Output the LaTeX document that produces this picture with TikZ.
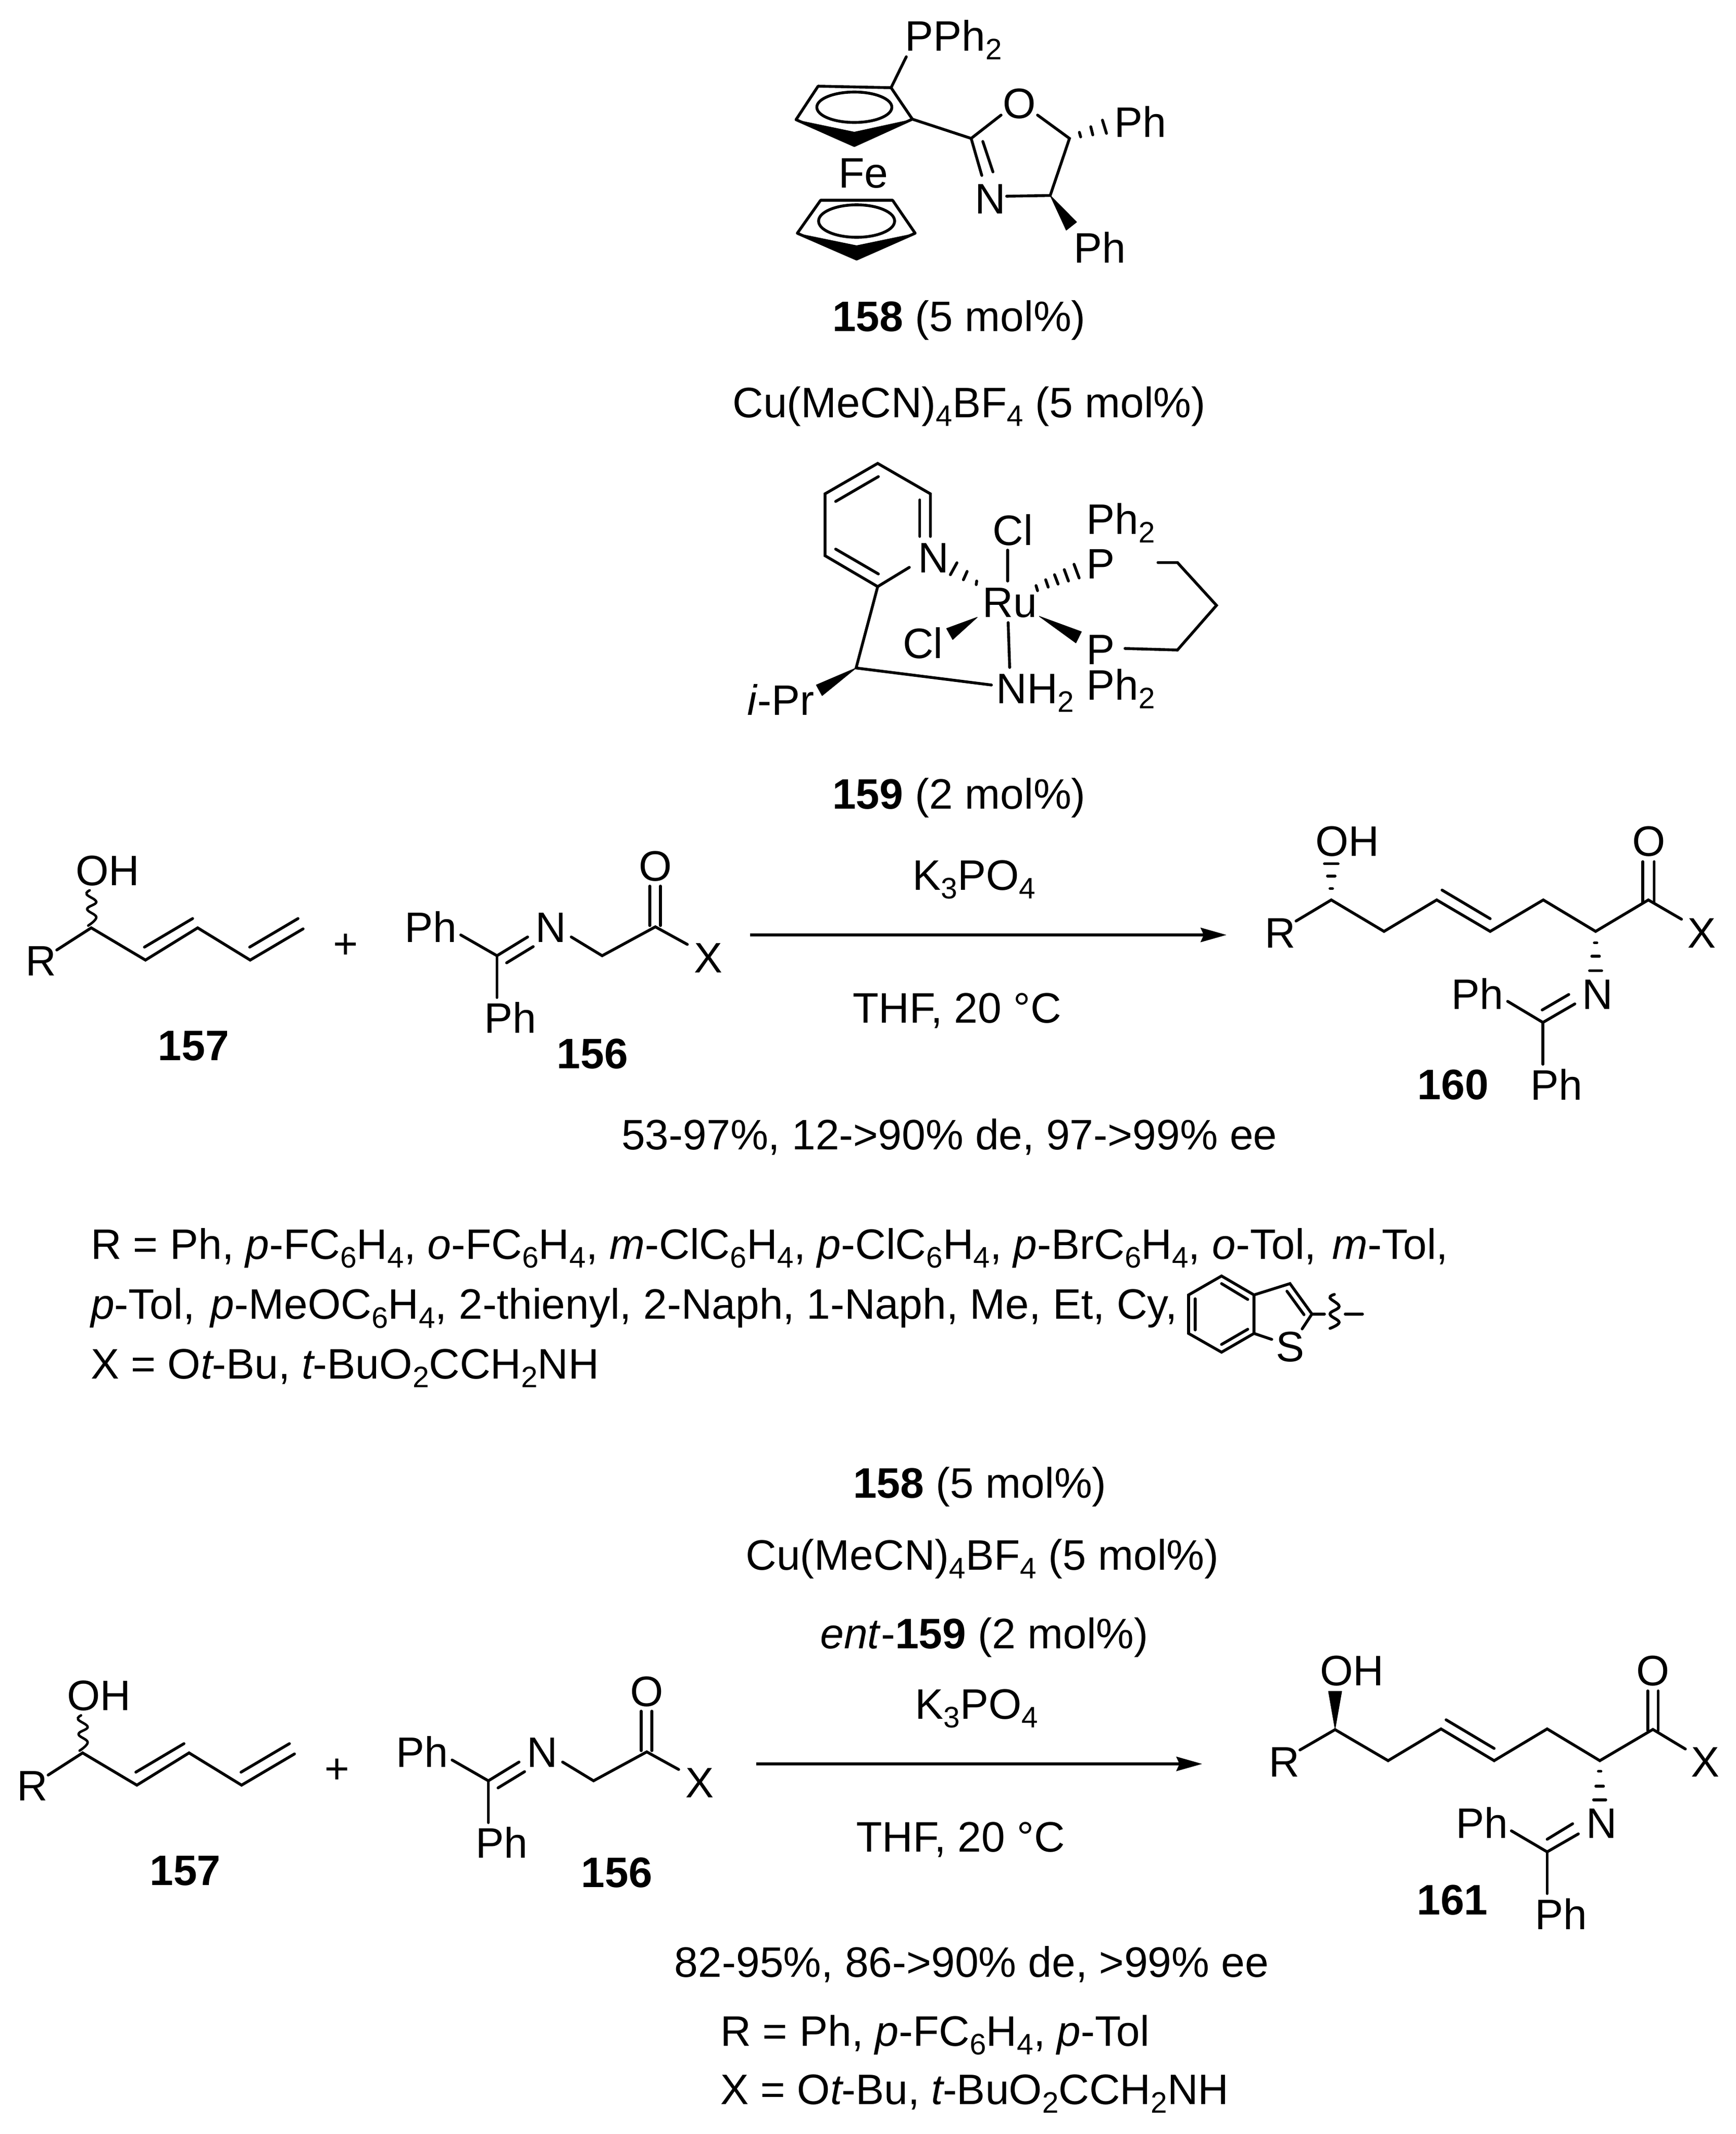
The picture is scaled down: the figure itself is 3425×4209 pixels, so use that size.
\documentclass[tikz,border=0pt]{standalone}
\usepackage{fontspec}
\setmainfont{Liberation Sans}
\usetikzlibrary{arrows.meta}
\newcommand{\sbs}[1]{\raisebox{-0.21em}{\fontsize{14.6}{15}\selectfont #1}}
\tikzset{
  bond/.style={line width=1.4pt,line cap=round,line join=miter,miter limit=6},
  wedge/.style={fill=black,draw=black,line width=0.3pt,line join=round},
  txt/.style={inner sep=0pt,outer sep=0pt,font=\fontsize{21}{25}\selectfont,anchor=base},
  txl/.style={txt,anchor=base west},
  atc/.style={inner sep=0pt,outer sep=0pt,font=\fontsize{21}{25}\selectfont,anchor=base},
  atom/.style={atc,anchor=base west,xshift=-0.9pt},
  rxn/.style={line width=1.5pt,-{Stealth[length=12.75pt,width=7pt,inset=1.5pt]}},
}
\newcommand{\wavy}{\draw[bond,line width=1.2pt] plot[smooth,tension=0.7] coordinates {(177,1756) (171,1764) (190,1779) (172,1793) (190,1809) (174,1825.6)};}
% reactants 157 and 156 (upper coordinates), #1 = prefix for node names
\newcommand{\reactants}[1]{
  \draw[bond] (112,1873.7) -- (180,1830) -- (287,1893.6) -- (390,1830) -- (493.6,1893.6) -- (598,1832);
  \draw[bond] (285,1868) -- (380,1811.7);
  \draw[bond] (492.6,1868) -- (588,1811.7);
  \wavy
  \node[atom] (#1oh) at (153,1746) {OH};
  \node[atom] (#1r) at (54.5,1924) {R};
  \node[txt] (#1plus) at (682,1890) {+};
  \draw[bond] (909,1844) -- (980.5,1885) -- (1041,1848);
  \draw[bond] (980.5,1885) -- (980.5,1967.5);
  \draw[bond] (999.6,1899) -- (1052,1867);
  \draw[bond] (1127,1848) -- (1188,1885) -- (1293,1828) -- (1356,1862.7);
  \draw[bond] (1282,1825.6) -- (1282,1747.7);
  \draw[bond] (1303,1825.6) -- (1303,1747.7);
  \node[atom] (#1n) at (1060,1858) {N};
  \node[atc] (#1o) at (1293,1737.7) {O};
  \node[atc] (#1x) at (1397,1918) {X};
  \node[atom] (#1pha) at (801.6,1858) {Ph};
  \node[atom] (#1phb) at (959.5,2037) {Ph};
}
\begin{document}
\begin{tikzpicture}[x=0.25pt,y=-0.25pt]
\useasboundingbox (0,0) rectangle (3425,4209);
\fill[white] (0,0) rectangle (3425,4209);
% ---------- ligand 158
\draw[bond,line join=round] (1614,170) -- (1758,173) -- (1800,235) -- (1685.5,287) -- (1570.5,236) -- cycle;
\fill (1570.5,236) -- (1685.5,260) -- (1800,235) -- (1685.5,287) -- cycle;
\draw[bond] (1685.5,211.5) ellipse [x radius=74,y radius=30];
\draw[bond,line join=round] (1619,395) -- (1761,395) -- (1805.5,460) -- (1690,511) -- (1573,460) -- cycle;
\fill (1573,460) -- (1690,484) -- (1805.5,460) -- (1690,511) -- cycle;
\draw[bond] (1690,436) ellipse [x radius=75,y radius=32];
\draw[bond] (1758,173) -- (1788,112);
\draw[bond] (1800,235) -- (1916,273) -- (1937,346);
\draw[bond] (1939,279) -- (1959,339);
\draw[bond] (1916,273) -- (1975,227);
\draw[bond] (2047,227) -- (2110,273) -- (2072,385.5) -- (1986,387);
\fill[wedge] (2072,385.5) -- (2124,438) -- (2103.6,454) -- cycle;
\draw[bond] (2129.5,261) -- (2132,270);
\draw[bond] (2152,250) -- (2156,266);
\draw[bond] (2175,237) -- (2183,263);
\node[atom] (pph) at (1789,100) {PPh\sbs{2}};
\node[atom] (fe) at (1658,370.5) {Fe};
\node[atc] (o158) at (2011,233) {O};
\node[atom] (n158) at (1927.5,421) {N};
\node[atom] (ph1) at (2202,270) {Ph};
\node[atom] (ph2) at (2122.5,518) {Ph};
\node[txt] (t158) at (1892,653) {\textbf{158} (5 mol\%)};
\node[txt] (tcu) at (1912,823) {Cu(MeCN)\sbs{4}BF\sbs{4} (5 mol\%)};
% ---------- Ru complex 159
\draw[bond] (1794,1119) -- (1731.6,1157) -- (1627.7,1096) -- (1627.7,974) -- (1731.6,914) -- (1835.6,974) -- (1835.6,1058);
\draw[bond] (1814.6,986) -- (1814.6,1058);
\draw[bond] (1648.7,989) -- (1733,940);
\draw[bond] (1648.7,1083) -- (1733,1132);
\draw[bond] (1731.6,1157) -- (1689,1317.5) -- (1956,1351);
\fill[wedge] (1689,1317.5) -- (1610.5,1351) -- (1622,1372) -- cycle;
\draw[bond] (1988,1085) -- (1988,1146);
\draw[bond] (1989,1228) -- (1992,1316.4);
\draw[bond] (1927,1146) -- (1926,1153);
\draw[bond] (1908,1127) -- (1900.7,1143.5);
\draw[bond] (1888,1110) -- (1875,1133.5);
\draw[bond] (2044,1155) -- (2047,1165);
\draw[bond] (2063,1143.5) -- (2068,1158);
\draw[bond] (2080.5,1133.5) -- (2087.5,1152);
\draw[bond] (2099.7,1123.5) -- (2108,1146);
\draw[bond] (2119,1113) -- (2129,1140);
\fill[wedge] (1928,1217.5) -- (1867.5,1239.6) -- (1879.6,1261.4) -- cycle;
\fill[wedge] (2050.6,1215.7) -- (2133.5,1246) -- (2122.6,1268) -- cycle;
\draw[bond] (2284.6,1109.6) -- (2323,1109.6) -- (2400,1194) -- (2323,1282) -- (2219.6,1279);
\node[atom] (npy) at (1814.6,1129) {N};
\node[atom] (ipr) at (1478,1410) {\textit{i}-Pr};
\node[atom] (nh2) at (1969,1387) {NH\sbs{2}};
\node[atom] (ph2b) at (2147.5,1380) {Ph\sbs{2}};
\node[atom] (pb) at (2147.5,1310) {P};
\node[atom] (pa) at (2147.5,1141) {P};
\node[atom] (ph2a) at (2147.5,1053) {Ph\sbs{2}};
\node[atom] (cla) at (1962.5,1075) {Cl};
\node[atom] (ru) at (1942,1217.5) {Ru};
\node[atom] (clb) at (1784.6,1298.5) {Cl};
\node[txt] (t159) at (1892,1595) {\textbf{159} (2 mol\%)};
\node[txt] (tk) at (1922,1755) {K\sbs{3}PO\sbs{4}};
\node[txt] (tthf) at (1888,2017) {THF, 20 °C};
% ---------- upper reaction
\reactants{u}
\node[txt] (l157) at (382,2091) {\textbf{157}};
\node[txt] (l156) at (1169,2107) {\textbf{156}};
\coordinate (a1s) at (1480,1844);
\coordinate (a1e) at (2420,1844);
\draw[rxn] (a1s) -- (a1e);
% product 160
\draw[bond] (2557,1816.6) -- (2626.5,1775) -- (2730.5,1837) -- (2834.5,1775) -- (2940,1837) -- (3044.8,1775) -- (3148,1837) -- (3252,1775) -- (3317.4,1813);
\draw[bond] (2845,1755.5) -- (2940,1812);
\draw[bond] (3241,1780) -- (3241,1699.5);
\draw[bond] (3263.6,1780) -- (3263.6,1699.5);
\draw[bond] (2624,1752.6) -- (2629,1752.6);
\draw[bond] (2619,1727.7) -- (2634,1727.7);
\draw[bond] (2613,1703.6) -- (2640,1703.6);
\draw[bond] (3145.5,1859.5) -- (3150.5,1859.5);
\draw[bond] (3140.5,1886) -- (3155.5,1886);
\draw[bond] (3136,1914.6) -- (3160,1914.6);
\draw[bond] (2974.5,1975) -- (3044,2016.6) -- (3107,1980);
\draw[bond] (3044,2016.6) -- (3044,2099);
\draw[bond] (3042.6,1992) -- (3095,1961.5);
\node[atom] (r160) at (2499,1869) {R};
\node[atc] (o160) at (3253,1688) {O};
\node[atc] (x160) at (3357,1869) {X};
\node[atom] (oh160) at (2599,1688) {OH};
\node[atom] (n160) at (3125,1990) {N};
\node[atom] (pha160) at (2867,1990) {Ph};
\node[atom] (phb160) at (3023,2169.6) {Ph};
\node[txt] (l160) at (2867,2168) {\textbf{160}};
\node[txt] (y1) at (1873,2267) {53-97\%, 12->90\% de, 97->99\% ee};
% substituent list
\node[txl] (s1) at (179,2483.3) {R = Ph, \textit{p}-FC\sbs{6}H\sbs{4}, \textit{o}-FC\sbs{6}H\sbs{4}, \textit{m}-ClC\sbs{6}H\sbs{4}, \textit{p}-ClC\sbs{6}H\sbs{4}, \textit{p}-BrC\sbs{6}H\sbs{4}, \textit{o}-Tol,\hspace{2pt} \textit{m}-Tol,};
\node[txl] (s2) at (179,2601.7) {\textit{p}-Tol,\hspace{2pt} \textit{p}-MeOC\sbs{6}H\sbs{4}, 2-thienyl, 2-Naph, 1-Naph, Me, Et, Cy,};
\node[txl] (s3) at (179,2719) {X = O\textit{t}\kern-1pt-Bu, \textit{t}\kern-1pt-BuO\sbs{2}CCH\sbs{2}NH};
% benzothiophene
\draw[bond] (2410,2516.7) -- (2474,2554) -- (2474,2630) -- (2410,2667) -- (2345,2630) -- (2345,2554) -- cycle;
\draw[bond] (2410,2531.7) -- (2461.7,2563);
\draw[bond] (2358,2561.7) -- (2358,2623);
\draw[bond] (2410,2651.7) -- (2461.7,2621.7);
\draw[bond] (2474,2554) -- (2545,2531.7) -- (2588.3,2591.7) -- (2569,2621);
\draw[bond] (2474,2630) -- (2509,2641.7);
\draw[bond] (2539,2546.7) -- (2572.7,2593);
\draw[bond] (2588.3,2591.7) -- (2613,2591.7);
\draw[bond] plot[smooth,tension=0.7] coordinates {(2632.7,2553) (2624,2560) (2642,2576.7) (2624,2591.7) (2642,2608) (2624,2620)};
\draw[bond] (2654,2591.7) -- (2688,2591.7);
\node[atc] (sth) at (2545,2685) {S};
% ---------- lower reaction
\node[txt] (t158b) at (1933,2954) {\textbf{158} (5 mol\%)};
\node[txt] (tcub) at (1938,3096) {Cu(MeCN)\sbs{4}BF\sbs{4} (5 mol\%)};
\node[txt] (tent) at (1942,3251) {\textit{ent}-\textbf{159} (2 mol\%)};
\node[txt] (tkb) at (1927,3390) {K\sbs{3}PO\sbs{4}};
\node[txt] (tthfb) at (1895,3652) {THF, 20 °C};
\begin{scope}[shift={(-17,1627.3)}]
\reactants{l}
\end{scope}
\node[txt] (l157b) at (365.6,3718.6) {\textbf{157}};
\node[txt] (l156b) at (1217,3722) {\textbf{156}};
\coordinate (a2s) at (1492,3479);
\coordinate (a2e) at (2372,3479);
\draw[rxn] (a2s) -- (a2e);
% product 161
\draw[bond] (2564.7,3451.5) -- (2634,3411.4) -- (2738.6,3472.6) -- (2843,3410) -- (2947.8,3472.6) -- (3052.4,3410) -- (3156.3,3472.6) -- (3261,3411) -- (3325,3449.6);
\draw[bond] (2853,3392) -- (2947.8,3448.5);
\draw[bond] (3251,3413) -- (3251,3335);
\draw[bond] (3271.4,3413) -- (3271.4,3335);
\fill[wedge] (2634,3410) -- (2621,3336) -- (2647,3336) -- cycle;
\draw[bond] (3153.5,3493.6) -- (3158.5,3493.6);
\draw[bond] (3148.5,3523) -- (3163.5,3523);
\draw[bond] (3144,3550) -- (3168,3550);
\draw[bond] (2981.8,3611) -- (3052.4,3652.5) -- (3114,3617);
\draw[bond] (3052.4,3652.5) -- (3052.4,3734.7);
\draw[bond] (3052.4,3627.6) -- (3102.7,3597);
\node[atom] (r161) at (2506.6,3504) {R};
\node[atc] (o161) at (3261,3324) {O};
\node[atc] (x161) at (3364.5,3504) {X};
\node[atom] (oh161) at (2608,3324) {OH};
\node[atom] (n161) at (3133.5,3625) {N};
\node[atom] (pha161) at (2876,3625) {Ph};
\node[atom] (phb161) at (3032,3805) {Ph};
\node[txt] (l161) at (2865.5,3776) {\textbf{161}};
\node[txt] (y2) at (1917,3899) {82-95\%, 86->90\% de, >99\% ee};
\node[txl] (s4) at (1421,4035) {R = Ph, \textit{p}-FC\sbs{6}H\sbs{4}, \textit{p}-Tol};
\node[txl] (s5) at (1421,4150) {X = O\textit{t}\kern-1pt-Bu, \textit{t}\kern-1pt-BuO\sbs{2}CCH\sbs{2}NH};
\end{tikzpicture}
\end{document}
